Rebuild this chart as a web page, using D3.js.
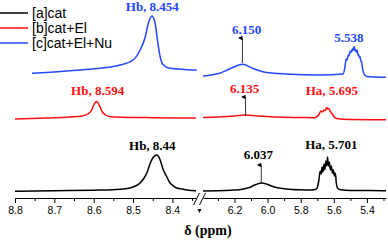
<!DOCTYPE html>
<html>
<head>
<meta charset="utf-8">
<script src="https://cdn.jsdelivr.net/npm/d3@7"></script>
<style>
  body { margin: 0; background: #fff; }
  svg { display: block; }
</style>
</head>
<body>
<svg id="svg" width="388" height="240"></svg>
<script>
// series
var seriesNames = ['[a]cat', '[b]cat+El', '[c]cat+El+Nu'];
var seriesColors = ['#000000', '#ff1010', '#2448ff'];
var offsets = [7, 80, 121]; // stacking of the three traces

// spectra as [ppm, intensity]
// left part (8.8 - 8.34 ppm)
var catLeft = [[8.80, -0.3], [8.70, 0.3], [8.60, 0.8], [8.55, 1.3], [8.52, 2.2], [8.50, 4], [8.482, 8], [8.472, 13],
  [8.464, 19], [8.455, 29], [8.448, 34], [8.440, 36], [8.432, 32], [8.424, 22], [8.414, 14], [8.406, 8],
  [8.397, 5], [8.389, 3], [8.375, 2], [8.363, 1], [8.34, 0.3]];
var elLeft = [[8.80, -1], [8.72, 0], [8.66, 1], [8.63, 2], [8.615, 4], [8.605, 8], [8.60, 13], [8.592, 16.5],
  [8.585, 12], [8.578, 6], [8.57, 3], [8.56, 1.5], [8.53, 0.8], [8.45, 0.3], [8.34, 0]];
var nuLeft = [[8.757, 3.7], [8.72, 4.5], [8.685, 5.5], [8.635, 7], [8.584, 8.7], [8.533, 12], [8.50, 17],
  [8.482, 27], [8.469, 40], [8.461, 54], [8.452, 61], [8.444, 54], [8.438, 37], [8.431, 20], [8.423, 12],
  [8.406, 8.7], [8.37, 7.5], [8.338, 7]];

// right part (6.39 - 5.285 ppm)
var catRight = [[6.39, 0], [6.30, 0.3], [6.22, 0.8], [6.17, 1.3], [6.11, 3.5], [6.07, 6.5], [6.037, 8], [6.00, 6.5],
  [5.96, 4], [5.885, 2], [5.806, 1.2], [5.74, 1], [5.715, 1.5], [5.703, 2.5], [5.691, 10], [5.682, 20],
  [5.676, 17], [5.671, 24], [5.666, 19], [5.659, 27], [5.655, 21], [5.648, 30], [5.643, 25], [5.638, 34],
  [5.633, 25], [5.627, 29], [5.621, 21], [5.615, 25], [5.609, 18], [5.603, 21], [5.597, 15], [5.591, 18],
  [5.585, 8], [5.576, 2.5], [5.558, 1.2], [5.50, 0.6], [5.285, 0.3]];
var elRight = [[6.39, 0.5], [6.30, 1], [6.20, 2], [6.135, 3], [6.06, 2], [5.95, 1], [5.80, 0.5], [5.72, 0.3],
  [5.705, 1], [5.69, 3.5], [5.678, 7], [5.668, 6], [5.66, 8], [5.652, 7.5], [5.646, 9.5], [5.642, 10.5],
  [5.636, 9], [5.63, 9.5], [5.622, 7], [5.615, 5], [5.61, 4.5], [5.60, 1.5], [5.585, -0.5], [5.50, -1.5],
  [5.285, -1.8]];
var nuRight = [[6.39, 1], [6.29, 3.7], [6.23, 8], [6.15, 12.7], [6.09, 8.7], [6.03, 5.3], [5.89, 3], [5.685, 2],
  [5.544, 3], [5.533, 10], [5.526, 18], [5.520, 17], [5.513, 22], [5.508, 21], [5.503, 25.5], [5.498, 24.5],
  [5.493, 27], [5.488, 26], [5.483, 29], [5.480, 27.5], [5.477, 30.5], [5.472, 26], [5.467, 27], [5.463, 25],
  [5.459, 27], [5.455, 22], [5.450, 22.5], [5.446, 19.5], [5.442, 20.5], [5.437, 16], [5.432, 15], [5.427, 9],
  [5.422, 5], [5.41, 1.5], [5.40, 0.5], [5.35, 0], [5.285, -0.3]];

var leftSpectra = [catLeft, elLeft, nuLeft];
var rightSpectra = [catRight, elRight, nuRight];

// tick values
var leftTicks = [8.8, 8.7, 8.6, 8.5, 8.4];
var leftMinor = [8.75, 8.65, 8.55, 8.45, 8.35];
var rightTicks = [6.2, 6.0, 5.8, 5.6, 5.4];
var rightMinor = [6.3, 6.1, 5.9, 5.7, 5.5, 5.3];

// peak labels: text, series, part, ppm, level
var labelTexts = ['Hb, 8.44', '6.037', 'Ha, 5.701', 'Hb, 8.594', '6.135', 'Ha, 5.695', 'Hb, 8.454', '6.150', '5.538'];
var labelSeries = [0, 0, 0, 1, 1, 1, 2, 2, 2];
var labelPart = ['L', 'R', 'R', 'L', 'R', 'R', 'L', 'R', 'R'];
var labelPpm = [8.451, 6.055, 5.615, 8.590, 6.139, 5.612, 8.451, 6.127, 5.509];
var labelLevel = [41, 32, 42, 23, 25, 23, 66, 43, 35];

// arrows: series, ppm, from level, to level
var arrowSeries = [0, 1, 2];
var arrowPpm = [6.038, 6.133, 6.152];
var arrowFrom = [8.3, 2, 14];
var arrowTo = [26, 21, 39];

var svg = d3.select('#svg');
var axisY = 198;

var xL = d3.scaleLinear().domain([8.8, 8.34]).range([15, 196]);
var xR = d3.scaleLinear().domain([6.39, 5.285]).range([203, 386]);
var y = d3.scaleLinear().domain([0, 198]).range([axisY, 0]);

var defs = svg.append('defs');
seriesColors.forEach(function (c, i) {
  defs.append('marker')
    .attr('id', 'arr' + i)
    .attr('viewBox', '0 0 10 10')
    .attr('refX', 5).attr('refY', 10)
    .attr('markerWidth', 4.5).attr('markerHeight', 6)
    .attr('markerUnits', 'userSpaceOnUse')
    .attr('orient', 'auto-start-reverse')
    .append('path')
    .attr('d', 'M0,10 L5,0 L10,10 Z')
    .attr('fill', '#000');
});

function lineFor(xs, i) {
  return d3.line()
    .x(function (d) { return xs(d[0]); })
    .y(function (d) { return y(offsets[i] + d[1]); })
    .curve(d3.curveMonotoneX);
}

// spectra traces
[[xL, leftSpectra], [xR, rightSpectra]].forEach(function (part) {
  part[1].forEach(function (data, i) {
    svg.append('path')
      .datum(data.slice().sort(function (a, b) { return a[0] - b[0]; }))
      .attr('d', lineFor(part[0], i))
      .attr('fill', 'none')
      .attr('stroke', seriesColors[i])
      .attr('stroke-width', 1.5)
      .attr('stroke-linejoin', 'round');
  });
});

// axes
function drawAxis(scale, major, minor) {
  var g = svg.append('g').attr('transform', 'translate(0,' + axisY + ')');
  g.call(d3.axisBottom(scale).tickValues(major).tickSize(5).tickSizeOuter(0).tickPadding(4)
    .tickFormat(d3.format('.1f')));
  g.append('g').call(d3.axisBottom(scale).tickValues(minor).tickSize(3).tickFormat(''))
    .select('.domain').remove();
  g.selectAll('text')
    .style('font-family', '"Liberation Sans", Arial, sans-serif')
    .style('font-size', '10.5px')
    .attr('fill', '#000');
  g.selectAll('line, path').attr('stroke', '#000');
}
drawAxis(xL, leftTicks, leftMinor);
drawAxis(xR, rightTicks, rightMinor);

// axis break
var bx = (xL.range()[1] + xR.range()[0]) / 2;
[-3, 3].forEach(function (dx) {
  svg.append('line')
    .attr('x1', bx + dx - 3).attr('y1', axisY + 7)
    .attr('x2', bx + dx + 3).attr('y2', axisY - 5)
    .attr('stroke', '#000').attr('stroke-width', 1);
});
svg.append('path')
  .attr('d', 'M' + (bx - 2) + ',' + (axisY + 11) + 'h4l-2,4z')
  .attr('fill', '#000');

svg.append('text')
  .attr('x', 208).attr('y', 235)
  .attr('text-anchor', 'middle')
  .style('font-family', '"Liberation Serif", "Times New Roman", serif')
  .style('font-weight', 'bold')
  .style('font-size', '14px')
  .text('δ (ppm)');

// arrows
arrowSeries.forEach(function (s, i) {
  var x = xR(arrowPpm[i]);
  svg.append('line')
    .attr('x1', x).attr('x2', x)
    .attr('y1', y(offsets[s] + arrowFrom[i]))
    .attr('y2', y(offsets[s] + arrowTo[i]))
    .attr('stroke', '#000').attr('stroke-width', 0.8)
    .attr('marker-end', 'url(#arr' + s + ')');
});

// peak labels
labelTexts.forEach(function (t, i) {
  var s = labelSeries[i];
  var xs = labelPart[i] === 'L' ? xL : xR;
  svg.append('text')
    .attr('x', xs(labelPpm[i]))
    .attr('y', y(offsets[s] + labelLevel[i]))
    .attr('text-anchor', 'middle')
    .attr('fill', seriesColors[s])
    .style('font-family', '"Liberation Serif", "Times New Roman", serif')
    .style('font-weight', 'bold')
    .style('font-size', '13px')
    .text(t);
});

// legend
var legend = svg.append('g').attr('class', 'legend');
seriesNames.forEach(function (n, i) {
  var ly = 13 + i * 15;
  legend.append('line')
    .attr('x1', 0).attr('x2', 28)
    .attr('y1', ly).attr('y2', ly)
    .attr('stroke', seriesColors[i]).attr('stroke-width', 1.5);
  legend.append('text')
    .attr('x', 32).attr('y', ly + 5)
    .style('font-family', '"Liberation Sans", Arial, sans-serif')
    .style('font-size', '14px')
    .text(n);
});
</script>
</body>
</html>
